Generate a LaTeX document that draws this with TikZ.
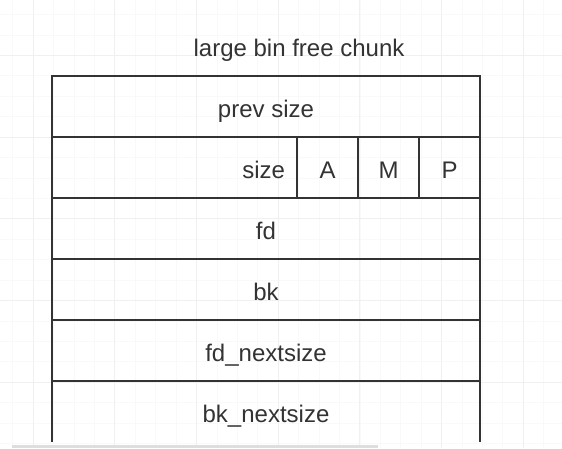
\documentclass[tikz,border=0pt]{standalone}
\usepackage{fontspec}
\setmainfont{Liberation Sans}
\usepackage{xcolor}
\usepackage{tikz}

\definecolor{ink}{HTML}{333333}
\tikzset{
 field/.style = {draw = ink, line width = 1.7pt, minimum width = 428pt,
   minimum height = 61pt, inner sep = 0pt, outer sep = 0pt, text = ink,
   text height = 26pt, text depth = 4pt, font = \fontsize{24}{28}\selectfont},
 flag/.style = {field, minimum width = 61pt},
 minorline/.style = {line width = 0.6pt, black!2.5},
 majorline/.style = {line width = 0.8pt, black!6}
}

\begin{document}
\begin{tikzpicture}[x = 1pt, y = -1pt]
 \useasboundingbox (0, 0) rectangle (562, 448);
 \fill [white] (0, 0) rectangle (562, 448);
 % background grid of the editor
 \foreach \i in {-1, ..., 27} {
   \draw [minorline] (33 + 20.425*\i, 0) -- (33 + 20.425*\i, 448);
 }
 \foreach \i in {-2, ..., 19} {
   \draw [minorline] (0, 55.3 + 20.425*\i) -- (562, 55.3 + 20.425*\i);
 }
 \foreach \i in {0, ..., 6} {
   \draw [majorline] (33 + 81.7*\i, 0) -- (33 + 81.7*\i, 448);
 }
 \foreach \i in {0, ..., 4} {
   \draw [majorline] (0, 55.3 + 81.7*\i) -- (562, 55.3 + 81.7*\i);
 }
 % title
 \node (title) [anchor = base, text = ink, font = \fontsize{24}{28}\selectfont]
   at (299, 56.7) {large bin free chunk};
 % chunk fields
 \node (prevsize) [field] at (266, 106.5) {prev size};
 \node (size) [field, minimum width = 245pt, text width = 221pt, inner xsep = 12pt,
   align = right] at (174.5, 167.5) {size};
 \node (flagA) [flag] at (327.5, 167.5) {A};
 \node (flagM) [flag] at (388.5, 167.5) {M};
 \node (flagP) [flag] at (449.5, 167.5) {P};
 \node (fd) [field] at (266, 228.5) {fd};
 \node (bk) [field] at (266, 289.5) {bk};
 \node (fdnext) [field] at (266, 350.5) {fd\_nextsize};
 \node (bknext) [field, draw = none] at (266, 411.5) {bk\_nextsize};
 \draw [ink, line width = 1.7pt] (bknext.north west) -- (bknext.south west);
 \draw [ink, line width = 1.7pt] (bknext.north east) -- (bknext.south east);
 % strip at the lower edge
 \fill [black!13] (12, 444.5) rectangle (378, 448);
\end{tikzpicture}
\end{document}
